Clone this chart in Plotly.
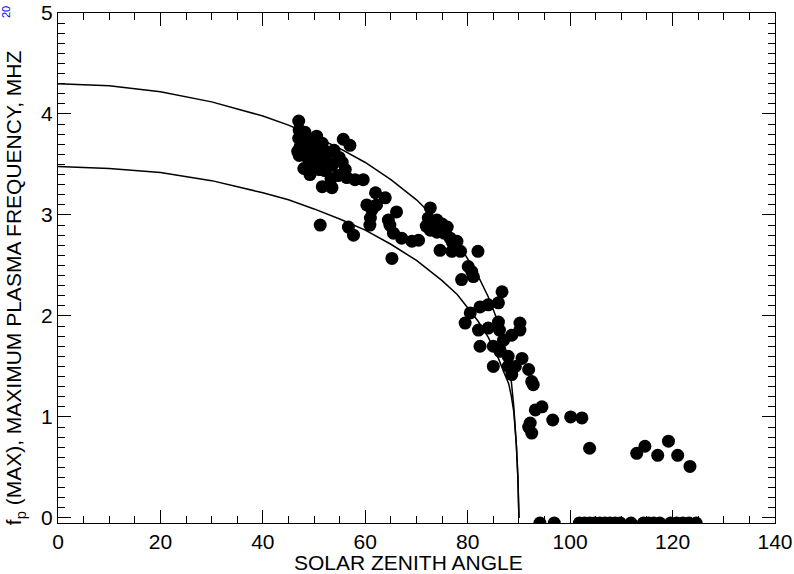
import plotly.graph_objects as go

# Model curves
curve_x = [0, 10, 20, 30, 40, 45, 50, 55, 60, 65, 70, 75, 78, 80, 82, 84, 86, 87, 88, 88.5, 89, 89.5, 89.8, 90]
curve_upper = [4.30, 4.28, 4.22, 4.12, 3.98, 3.89, 3.78, 3.66, 3.52, 3.35, 3.15, 2.90, 2.73, 2.57, 2.40, 2.19,
               1.93, 1.76, 1.52, 1.36, 1.10, 0.72, 0.40, 0.0]
curve_lower = [3.48, 3.46, 3.42, 3.34, 3.22, 3.15, 3.06, 2.96, 2.85, 2.71, 2.55, 2.35, 2.21, 2.08, 1.95, 1.79,
               1.58, 1.45, 1.33, 1.21, 1.05, 0.72, 0.40, 0.0]

# Observed points (solar zenith angle, fp max)
obs_x = [47.0, 47.1, 47.0, 47.3, 47.1, 46.8, 47.9, 48.4, 48.8, 48.2, 49.0, 50.5, 49.6, 50.8, 51.6, 51.4,
         50.0, 49.2, 48.0, 52.5, 52.1, 53.5, 53.9, 54.9, 53.3, 54.7, 51.6, 53.5, 55.7, 57.0, 56.1, 56.4,
         58.0, 59.6, 55.5, 50.2, 51.0, 49.5, 52.8,
         51.2, 56.7, 57.7,
         62.0, 63.9, 60.3, 61.3, 62.2, 61.0, 60.9, 66.1, 64.5, 64.8, 65.5, 67.1, 69.1, 70.4, 65.2,
         72.7, 72.3, 73.0, 74.0, 75.0, 76.0, 72.7, 74.0, 75.4, 76.6, 77.0, 71.9, 77.9, 74.6, 76.9, 78.6, 82.0,
         80.1, 80.8, 78.8, 81.1, 86.7, 80.5, 82.4, 84.0, 86.0, 79.5, 82.1, 84.0, 86.0, 86.2, 90.2, 90.2,
         88.6, 87.0, 82.4, 85.0, 86.3, 87.9, 90.6, 85.0, 87.9, 89.3, 88.6, 91.9, 92.5, 92.8, 93.2, 94.5,
         91.9, 92.2, 92.5, 96.6, 100.1, 102.3, 103.8, 113.0, 114.6, 117.1, 119.2, 121.0, 123.4]
obs_y = [3.93, 3.84, 3.76, 3.68, 3.59, 3.63, 3.64, 3.74, 3.56, 3.82, 3.70, 3.78, 3.67, 3.64, 3.71, 3.56,
         3.49, 3.40, 3.46, 3.54, 3.44, 3.49, 3.64, 3.57, 3.36, 3.39, 3.28, 3.27, 3.75, 3.69, 3.45, 3.37,
         3.35, 3.35, 3.52, 3.58, 3.45, 3.55, 3.62,
         2.90, 2.88, 2.80,
         3.22, 3.17, 3.10, 3.05, 3.10, 2.97, 2.90, 3.03, 2.95, 2.90, 2.82, 2.77, 2.74, 2.75, 2.57,
         3.07, 2.97, 2.91, 2.95, 2.91, 2.88, 2.85, 2.83, 2.82, 2.77, 2.73, 2.89, 2.74, 2.65, 2.64, 2.64, 2.64,
         2.49, 2.44, 2.36, 2.39, 2.24, 2.03, 2.09, 2.11, 2.13, 1.93, 1.86, 1.88, 1.94, 1.86, 1.93, 1.86,
         1.81, 1.76, 1.70, 1.70, 1.65, 1.60, 1.58, 1.50, 1.50, 1.50, 1.42, 1.47, 1.35, 1.32, 1.07, 1.10,
         0.90, 0.94, 0.84, 0.97, 1.00, 0.99, 0.69, 0.64, 0.71, 0.62, 0.76, 0.62, 0.51]

# Points with no detection (drawn at the bottom edge)
night_x = [94.1, 96.9, 101.8, 102.8, 103.8, 104.8, 105.8, 106.8, 107.8, 108.8, 109.8, 111.9,
           114.3, 115.3, 116.3, 117.5, 119.6, 120.8, 122.0, 123.2, 124.6]
night_y = [-0.05] * len(night_x)

x_ticks = [0, 20, 40, 60, 80, 100, 120, 140]
y_ticks = [0, 1, 2, 3, 4, 5]

FONT = "Liberation Sans, Arial, sans-serif"

fig = go.Figure()
fig.add_trace(go.Scatter(x=curve_x, y=curve_upper, mode="lines",
                         line=dict(color="black", width=1.5), hoverinfo="skip"))
fig.add_trace(go.Scatter(x=curve_x, y=curve_lower, mode="lines",
                         line=dict(color="black", width=1.5), hoverinfo="skip"))
fig.add_trace(go.Scatter(x=obs_x, y=obs_y, mode="markers",
                         marker=dict(color="black", size=13, line=dict(width=0))))
fig.add_trace(go.Scatter(x=night_x, y=night_y, mode="markers",
                         marker=dict(color="black", size=13, line=dict(width=0))))

fig.update_layout(
    width=794, height=574,
    margin=dict(l=58, r=19, t=13, b=51, autoexpand=False),
    paper_bgcolor="white", plot_bgcolor="white",
    showlegend=False,
    font=dict(family=FONT, size=21, color="black"),
    xaxis=dict(range=[0, 140], tickvals=x_ticks, ticktext=[str(v) for v in x_ticks], automargin=False,
               showgrid=False, zeroline=False, showline=True, linecolor="black", linewidth=1,
               mirror="allticks", ticks="inside", ticklen=13, tickwidth=1, tickcolor="black",
               minor=dict(dtick=5, ticks="inside", ticklen=7, tickwidth=1, tickcolor="black", showgrid=False),
               tickfont=dict(family=FONT, size=21, color="black")),
    yaxis=dict(range=[-0.05, 5.0], tickvals=y_ticks, ticktext=[str(v) for v in y_ticks], automargin=False,
               showgrid=False, zeroline=False, showline=True, linecolor="black", linewidth=1,
               mirror="allticks", ticks="inside", ticklen=13, tickwidth=1, tickcolor="black",
               minor=dict(dtick=0.1, tick0=0, ticks="inside", ticklen=7, tickwidth=1, tickcolor="black",
                          showgrid=False),
               tickfont=dict(family=FONT, size=21, color="black")),
    annotations=[
        dict(text="SOLAR ZENITH ANGLE", xref="paper", yref="paper", x=0.4895, y=-0.078,
             xanchor="center", yanchor="middle", showarrow=False,
             font=dict(family=FONT, size=21, color="black")),
        dict(text="f<sub>p</sub> (MAX), MAXIMUM PLASMA FREQUENCY, MHZ", xref="paper", yref="paper",
             x=-0.0596, y=0.461, xanchor="center", yanchor="middle", textangle=-90, showarrow=False,
             font=dict(family=FONT, size=21, color="black")),
        dict(text="20", xref="paper", yref="paper", x=-0.0725, y=1.002, xanchor="center", yanchor="middle",
             textangle=-90, showarrow=False, font=dict(family=FONT, size=11, color="blue")),
    ],
)

fig.write_html("out.html", config={"displayModeBar": False},
               post_script="document.body.style.margin='0px';document.body.style.overflow='hidden';")
